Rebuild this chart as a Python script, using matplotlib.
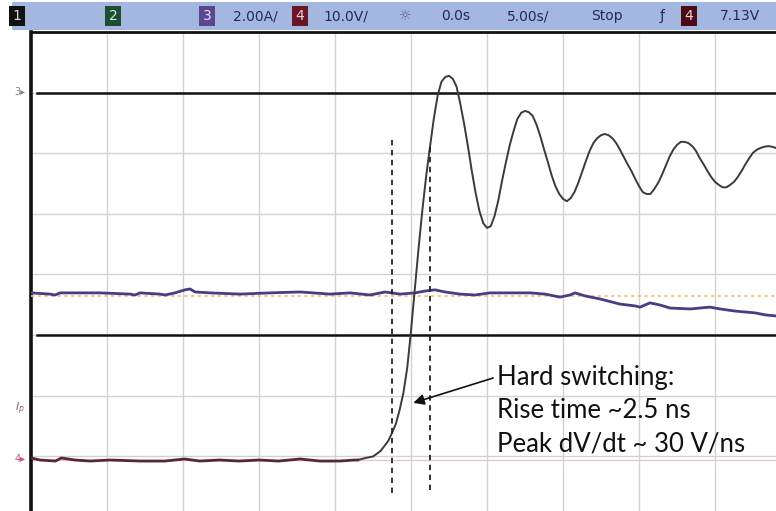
import matplotlib
matplotlib.use("Agg")
import matplotlib.pyplot as plt

# Scope settings
NS_PER_DIV = 5.0
V_PER_DIV = 10.0
A_PER_DIV = 2.0
T_LEFT_NS = -25.0
CH4_OFFSET_DIV = 0.937
CH3_OFFSET_DIV = 7.0

# Channel 4: switch-node voltage, flat part before the edge (ns, V)
ch4_base_time_ns = [-25.0, -24.4, -23.4, -23.0, -22.1, -21.1, -19.8, -17.8, -16.2, -14.9,
                    -13.9, -12.6, -11.3, -10.0, -8.7, -7.3, -6.0, -4.7, -3.7, -3.5]
ch4_base_volts = [0.33, 0.0, -0.17, 0.33, 0.0, -0.17, 0.0, -0.17, -0.17, 0.17,
                  -0.17, 0.0, -0.17, 0.0, -0.17, 0.17, -0.17, -0.17, 0.0, 0.0]

# Channel 4: switching edge and ringing (ns, V)
ch4_edge_time_ns = [-3.5, -3.0, -2.5, -2.0, -1.5, -1.25, -1.0, -0.75, -0.5, -0.25,
                    0.0, 0.25, 0.5, 0.75, 1.0, 1.25, 1.5, 1.75, 2.0, 2.25,
                    2.5, 2.75, 3.0, 3.25, 3.5, 3.75, 4.0, 4.25, 4.5, 4.75,
                    5.0, 5.25, 5.5, 5.75, 6.0, 6.25, 6.5, 6.75, 7.0, 7.25,
                    7.5, 7.75, 8.0, 8.25, 8.5, 8.75, 9.0, 9.25, 9.5, 9.75,
                    10.0, 10.25, 10.5, 10.75, 11.0, 11.25, 11.5, 11.75, 12.0, 12.25,
                    12.5, 12.75, 13.0, 13.25, 13.5, 13.75, 14.0, 14.25, 14.5, 14.75,
                    15.0, 15.25, 15.5, 15.75, 16.0, 16.25, 16.5, 16.75, 17.0, 17.25,
                    17.5, 17.75, 18.0, 18.25, 18.5, 18.75, 19.0, 19.25, 19.5, 19.75,
                    20.0, 20.25, 20.5, 20.75, 21.0, 21.25, 21.5, 21.75, 22.0, 22.25,
                    22.5, 22.75, 23.0, 23.25, 23.5, 23.75, 24.0]
ch4_edge_volts = [0.0, 0.33, 0.58, 1.49, 3.14, 4.46, 5.94, 8.25, 11.06, 15.18,
                  21.29, 28.2, 35.0, 41.3, 46.9, 51.7, 56.3, 60.1, 62.4, 63.2,
                  63.4, 62.9, 61.6, 58.7, 55.4, 51.7, 47.7, 44.1, 41.1, 39.1,
                  38.3, 38.6, 40.3, 42.9, 46.2, 49.2, 52.0, 54.3, 56.3, 57.3,
                  57.6, 57.4, 56.8, 55.4, 53.5, 51.3, 49.2, 47.0, 45.2, 43.9,
                  43.1, 42.7, 43.2, 44.2, 45.7, 47.5, 49.3, 51.0, 52.3, 53.1,
                  53.6, 53.8, 53.6, 53.1, 52.3, 51.2, 50.0, 48.8, 47.7, 46.4,
                  45.2, 44.2, 43.9, 43.9, 44.7, 45.7, 47.0, 48.5, 50.0, 51.2,
                  52.0, 52.5, 52.5, 52.3, 51.8, 51.0, 49.8, 48.8, 47.7, 46.7,
                  45.9, 45.4, 45.0, 45.0, 45.4, 45.9, 46.7, 47.7, 48.8, 49.8,
                  50.7, 51.2, 51.5, 51.7, 51.8, 51.7, 51.5]

# Channel 3: current (ns, A)
ch3_time_ns = [-25.0, -23.75, -23.42, -23.09, -20.46, -18.49, -18.16, -17.83, -16.51, -16.18,
               -15.53, -14.87, -14.54, -14.21, -13.22, -11.25, -9.28, -7.30, -5.33, -4.01,
               -2.70, -1.71, -0.72, 0.26, 0.92, 1.58, 2.24, 3.22, 4.21, 5.20,
               6.51, 7.83, 8.82, 9.80, 10.46, 10.79, 11.45, 12.43, 13.75, 14.74,
               15.07, 15.72, 16.38, 17.04, 18.36, 19.67, 20.33, 21.32, 22.63, 23.36,
               24.01]
ch3_amps = [-6.61, -6.65, -6.68, -6.61, -6.61, -6.65, -6.68, -6.61, -6.65, -6.68,
            -6.61, -6.51, -6.48, -6.58, -6.61, -6.65, -6.61, -6.58, -6.65, -6.61,
            -6.68, -6.58, -6.65, -6.61, -6.55, -6.51, -6.58, -6.65, -6.68, -6.61,
            -6.61, -6.61, -6.65, -6.75, -6.68, -6.61, -6.71, -6.81, -6.98, -7.04,
            -7.08, -6.94, -7.01, -7.11, -7.14, -7.08, -7.14, -7.21, -7.27, -7.34,
            -7.37]

# Channel 1: flat reference trace (divisions)
ch1_time_ns = [-25.0, 24.1]
ch1_level_div = [3.64, 3.64]

# Cursors
cursor_times_ns = [-1.25, 1.25]
cursor_top_div = [6.27, 6.10]
cursor_bottom_div = [0.39, 0.44]
level_cursors_div = [7.0, 3.0]

annotation_lines = ["Hard switching:", "Rise time ~2.5 ns", "Peak dV/dt ~ 30 V/ns"]

# Status bar: (x centre in px, text, box colour or None, text colour)
status_items = [
    (17, "1", "#111111", "#d8d8d8"),
    (113, "2", "#1d4d35", "#cfeedd"),
    (207, "3", "#5c4690", "#e8e0ff"),
    (255, "2.00A/", None, "#1e2c58"),
    (300, "4", "#6a1525", "#f0d0d8"),
    (346, "10.0V/", None, "#1e2c58"),
    (405, "\u263c", None, "#56648a"),
    (456, "0.0s", None, "#1e2c58"),
    (528, "5.00s/", None, "#1e2c58"),
    (607, "Stop", None, "#1e2c58"),
    (662, "\u0192", None, "#1e2c58"),
    (689, "4", "#4a0a18", "#f0d0d8"),
    (740, "7.13V", None, "#1e2c58"),
]


def to_xdiv(times):
    return [(t - T_LEFT_NS) / NS_PER_DIV for t in times]


W, H = 776, 511
fig = plt.figure(figsize=(W / 100, H / 100), dpi=100)
fig.patch.set_facecolor("white")

# main graticule
ax = fig.add_axes([31 / W, 0, (W - 31) / W, (H - 32) / H])
ax.set_xlim(0, (W - 31) / 76.0)
ax.set_ylim((516.8 - H) / 60.6, 8.0)
ax.set_xticks(range(1, 10))
ax.set_yticks(range(1, 8))
ax.grid(True, color="#d2d2d2", lw=1.0)
ax.tick_params(length=0, labelbottom=False, labelleft=False)
for side in ("right", "bottom"):
    ax.spines[side].set_visible(False)
ax.spines["left"].set_color("#111111")
ax.spines["left"].set_linewidth(2.6)
ax.spines["top"].set_color("#111111")
ax.spines["top"].set_linewidth(2.0)

# horizontal level cursors
for lvl in level_cursors_div:
    ax.axhline(lvl, xmin=0.008, color="#111111", lw=1.8, zorder=2)

# ch4 ground reference
ax.axhline(CH4_OFFSET_DIV, color="#f2c4d0", lw=1.0, zorder=1)

# ch1 trace
ax.plot(to_xdiv(ch1_time_ns), ch1_level_div, color="#e6c27a", lw=1.2,
        ls=(0, (2, 2)), zorder=3)

# ch3 trace
ch3_div = [CH3_OFFSET_DIV + a / A_PER_DIV for a in ch3_amps]
ax.plot(to_xdiv(ch3_time_ns), ch3_div, color="#4a3b82", lw=2.0, zorder=4)

# ch4 trace: flat part, then edge and ringing
ax.plot(to_xdiv(ch4_base_time_ns),
        [CH4_OFFSET_DIV + v / V_PER_DIV for v in ch4_base_volts],
        color="#5a2636", lw=2.0, zorder=5)
ax.plot(to_xdiv(ch4_edge_time_ns),
        [CH4_OFFSET_DIV + v / V_PER_DIV for v in ch4_edge_volts],
        color="#3a3a3a", lw=1.4, zorder=5)

# time cursors
ax.vlines(to_xdiv(cursor_times_ns), cursor_bottom_div, cursor_top_div,
          colors="#222222", lw=1.3, linestyles=(0, (3, 2.5)), zorder=6)

# annotation
ax.annotate("", xy=(5.03, 1.88), xytext=(6.08, 2.29),
            arrowprops=dict(arrowstyle="-|>", color="#111111", lw=1.2,
                            mutation_scale=16, shrinkA=0, shrinkB=0), zorder=7)
ax.text(6.13, 2.505, "\n".join(annotation_lines), family="Lato", fontsize=18.5,
        color="#111111", ha="left", va="top", linespacing=1.42,
        transform=ax.transData, zorder=7)

# channel markers on the left edge
fig.text(20 / W, 1 - 92 / H, "3\u25b8", fontsize=7, color="#888888",
         ha="center", va="center")
fig.text(20 / W, 1 - 409 / H, r"$I_p$", fontsize=8, color="#8a6a72",
         ha="center", va="center")
fig.text(20 / W, 1 - 459 / H, "4\u25b8", fontsize=7, color="#c8506c",
         ha="center", va="center")

# status bar
hax = fig.add_axes([12 / W, 1 - 30 / H, (W - 12) / W, 28 / H])
hax.set_xlim(12, W)
hax.set_ylim(0, 1)
hax.set_facecolor("#a4b8df")
hax.set_xticks([])
hax.set_yticks([])
for sp in hax.spines.values():
    sp.set_visible(False)
for xc, label, box, fg in status_items:
    kw = {}
    if box is not None:
        kw["bbox"] = dict(boxstyle="square,pad=0.25", fc=box, ec="none")
    hax.text(xc, 0.5, label, ha="center", va="center", fontsize=10,
             color=fg, family="DejaVu Sans", **kw)

fig.savefig("out.png", dpi=100)
